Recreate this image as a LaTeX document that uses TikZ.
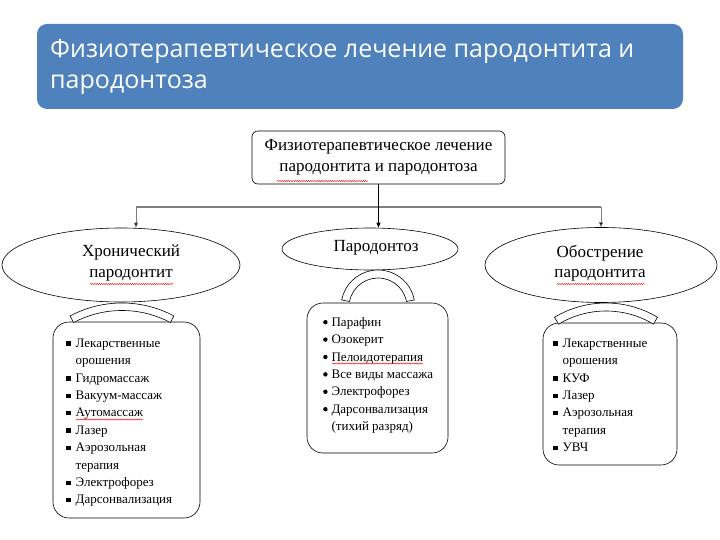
\documentclass[tikz,border=0pt]{standalone}
\usepackage{fontspec}
\setmainfont{Liberation Serif}
\newfontfamily\hdrfont{Open Sans}
\usetikzlibrary{shapes.geometric,arrows.meta,decorations.pathmorphing,calc}
\definecolor{hdrblue}{HTML}{4F81BD}
\definecolor{lngray}{HTML}{7F7F7F}
\newcommand{\sqb}{\raisebox{1.5pt}{\rule{4.5pt}{4.5pt}}}
\newcommand{\rdb}{\raisebox{2pt}{\tikz\fill (0,0) circle (2.2pt);}}
\begin{document}
\begin{tikzpicture}[x=1pt,y=-1pt,
  hdr/.style={fill=hdrblue,draw=none,rounded corners=10pt},
  hdrtext/.style={anchor=base west,inner sep=0pt,text=white,font=\hdrfont\fontsize{25}{30}\selectfont},
  topbox/.style={draw,line width=0.6pt,rounded corners=6pt,align=center,inner sep=0pt,
     font=\fontsize{17}{21}\selectfont},
  ell/.style={draw,ellipse,line width=0.6pt,inner sep=0pt,align=center,
     font=\fontsize{17}{20.5}\selectfont},
  elltext/.style={align=center,inner sep=0pt,font=\fontsize{17}{20.5}\selectfont},
  listbox/.style={draw,line width=0.6pt,rounded corners=16pt},
  listtext/.style={anchor=north west,inner sep=0pt,font=\fontsize{13}{17.4}\selectfont},
  arch/.style={draw,line width=0.6pt,fill=white},
  grayarrow/.style={draw=lngray,line width=0.6pt,-{Triangle[length=5pt,width=4pt,fill=black]}},
  blackarrow/.style={draw,line width=0.8pt,-{Triangle[length=5pt,width=4pt]}},
  spell/.style={draw=red,line width=0.4pt,decorate,decoration={snake,amplitude=0.6pt,segment length=2.2pt}}
]
\useasboundingbox (0,0) rectangle (720,540);
% header
\path[hdr] (37,24) rectangle (683,109);
\node[hdrtext] (h1) at (50,58) {Физиотерапевтическое лечение пародонтита и};
\node[hdrtext] (h2) at (50,89) {пародонтоза};
% top box
\node[topbox,minimum width=253pt,minimum height=53pt] (tb) at (378.5,157.5) {Физиотерапевтическое лечение\\пародонтита и пародонтоза};
% ellipses
\node[ell,minimum width=238pt,minimum height=74pt] (e1) at (121,265) {};
\node[ell,minimum width=176pt,minimum height=42pt] (e2) at (370,249) {};
\node[ell,minimum width=232pt,minimum height=75pt] (e3) at (601,265) {};
\node[elltext] (t1) at (131,263) {Хронический\\пародонтит};
\node[elltext] (t2) at (376,248) {Пародонтоз};
\node[elltext] (t3) at (600,263) {Обострение\\пародонтита};
% connectors
\coordinate (hl) at (136,207);
\coordinate (hr) at (601,207);
\draw[lngray,line width=1.6pt] (hl) -- (hr);
\draw[grayarrow] (hl) -- (hl |- e1.north);
\draw[grayarrow] (hr) -- (hr |- e3.north);
\draw[blackarrow] (tb.south) -- (tb.south |- e2.north);
% list boxes
\path[listbox] (53,322) rectangle (200,518);
\node[inner sep=0pt,minimum width=147pt,minimum height=196pt] (b1) at (126.5,420) {};
\path[listbox] (307,303) rectangle (448,453);
\node[inner sep=0pt,minimum width=141pt,minimum height=150pt] (b2) at (377.5,378) {};
\path[listbox] (543,323) rectangle (677,465);
\node[inner sep=0pt,minimum width=134pt,minimum height=142pt] (b3) at (610,394) {};
% arches
\path[arch] ($(122,413.5)+(62:110.5pt)$) arc[start angle=62,end angle=118,radius=110.5pt]
   -- ($(122,413.5)+(118:103pt)$) arc[start angle=118,end angle=62,radius=103pt] -- cycle;
\path[arch] ($(378,307)+(11:37pt)$) arc[start angle=11,end angle=169,radius=37pt]
   -- ($(378,307)+(169:29pt)$) arc[start angle=169,end angle=11,radius=29pt] -- cycle;
\path[arch] ($(606,403)+(59:100pt)$) arc[start angle=59,end angle=121,radius=100pt]
   -- ($(606,403)+(121:92pt)$) arc[start angle=121,end angle=59,radius=92pt] -- cycle;
% lists
\node[listtext] (l1) at (66,335) {\begin{tabular}{@{}l@{\hspace{5pt}}l@{}}
\sqb & Лекарственные\\ & орошения\\
\sqb & Гидромассаж\\
\sqb & Вакуум-массаж\\
\sqb & Аутомассаж\\
\sqb & Лазер\\
\sqb & Аэрозольная\\ & терапия\\
\sqb & Электрофорез\\
\sqb & Дарсонвализация
\end{tabular}};
\node[listtext] (l2) at (323,314) {\begin{tabular}{@{}l@{\hspace{4pt}}l@{}}
\rdb & Парафин\\
\rdb & Озокерит\\
\rdb & Пелоидотерапия\\
\rdb & Все виды массажа\\
\rdb & Электрофорез\\
\rdb & Дарсонвализация\\ & (тихий разряд)
\end{tabular}};
\node[listtext] (l3) at (553,335) {\begin{tabular}{@{}l@{\hspace{5pt}}l@{}}
\sqb & Лекарственные\\ & орошения\\
\sqb & КУФ\\
\sqb & Лазер\\
\sqb & Аэрозольная\\ & терапия\\
\sqb & УВЧ
\end{tabular}};
% spell-check underlines
\draw[spell] (277,181) -- (368,181);
\draw[spell] (90,284) -- (173,284);
\draw[spell] (557,284) -- (645,284);
\draw[spell] (76,419.5) -- (143,419.5);
\draw[spell] (332,363.5) -- (423,363.5);
\end{tikzpicture}
\end{document}
